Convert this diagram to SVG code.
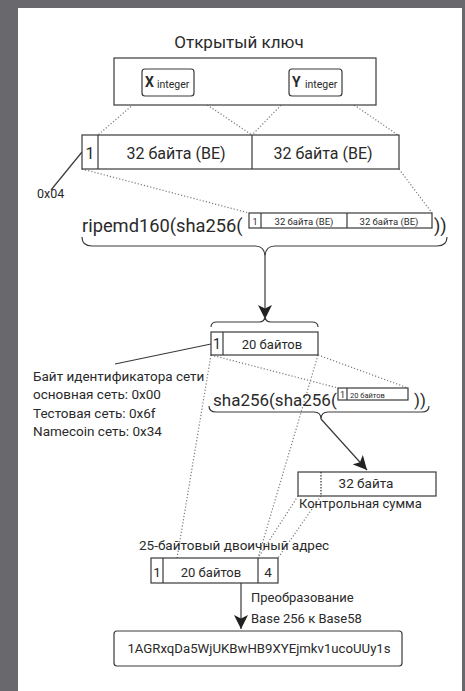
<svg xmlns="http://www.w3.org/2000/svg" width="465" height="691" viewBox="0 0 465 691">
<style>
text{font-family:Roboto,"Liberation Sans","Noto Sans",sans-serif;fill:#2a2a2a}
.box{fill:#fff;stroke:#3a3a3a;stroke-width:1.2}
.ln{fill:none;stroke:#3a3a3a;stroke-width:1.2}
.dot{fill:none;stroke:#7a7a7a;stroke-width:1.2;stroke-dasharray:1.2 2}
.m{text-anchor:middle}
</style>
<defs>
<marker id="ah" viewBox="0 0 10 10" refX="10" refY="5" markerWidth="14" markerHeight="14" markerUnits="userSpaceOnUse" orient="auto">
<path d="M0,0 L10,5 L0,10 L2.5,5 Z" fill="#222"/>
</marker>
</defs>
<rect x="0" y="0" width="465" height="691" fill="#68686d"/>
<rect x="18" y="8" width="444" height="683" fill="#fff"/>

<g id="connectors">
<path class="dot" d="M143,96 L98,135 M194,96 L252,135 M290,96 L252,135 M341,96 L398,135"/>
<path class="dot" d="M82,169 L249,213 M399,169 L432,213"/>
<path class="dot" d="M211,355 L338,388 M318,355 L408,388"/>
<path class="dot" d="M211,355 L177,558 M318,355 L258,558"/>
<path class="dot" d="M298,496 L258,558 M321,496 L278,558"/>
<path class="ln" d="M82,152 L51,190"/>
<path class="ln" d="M211,344 L115,364"/>
<path class="ln" d="M82,237 Q82,246 92,246 L255,246 Q265,246 265,257 Q265,246 275,246 L437,246 Q447,246 447,237"/>
<path class="ln" d="M265,257 L265,319" marker-end="url(#ah)"/>
<path class="ln" d="M211,327 Q211,322 217,322 L259,322 Q265,322 265,316 Q265,322 271,322 L312,322 Q318,322 318,327"/>
<path class="ln" d="M209,406 Q209,412 216,412 L314,412 Q321,412 321,419 Q321,412 328,412 L422,412 Q429,412 429,406"/>
<path class="ln" d="M321,419 L367,470" marker-end="url(#ah)"/>
<path class="ln" d="M241,583 L241,629" marker-end="url(#ah)"/>
</g>

<g id="pubkey">
<text x="239" y="48" class="m" font-size="17">Открытый ключ</text>
<rect class="box" x="114" y="58" width="262" height="47"/>
</g>
<g id="x-int">
<rect class="box" x="142" y="69" width="52" height="27" rx="3"/>
<text x="145" y="87" font-size="14" font-weight="bold">X</text>
<text x="157" y="88" font-size="10.5">integer</text>
</g>
<g id="y-int">
<rect class="box" x="289" y="69" width="53" height="27" rx="3"/>
<text x="292" y="87" font-size="14" font-weight="bold">Y</text>
<text x="305" y="88" font-size="10.5">integer</text>
</g>

<g id="uncompressed">
<rect class="box" x="82" y="135" width="317" height="34"/>
<path class="ln" d="M98,135 V169 M252,135 V169"/>
<text x="90" y="159" class="m" font-size="16">1</text>
<text x="176" y="159" class="m" font-size="16">32 байта (BE)</text>
<text x="323" y="159" class="m" font-size="16">32 байта (BE)</text>
</g>
<g id="prefix-label">
<text x="37" y="198" font-size="12.5">0x04</text>
</g>

<g id="ripemd">
<text x="82" y="232" font-size="18.3">ripemd160(sha256(</text>
<rect class="box" x="249" y="213" width="183" height="15"/>
<path class="ln" d="M261,213 V228 M347,213 V228"/>
<text x="255" y="224.5" class="m" font-size="9">1</text>
<text x="304" y="224.5" class="m" font-size="9.5">32 байта (BE)</text>
<text x="389" y="224.5" class="m" font-size="9.5">32 байта (BE)</text>
<text x="434" y="232" font-size="18.3">))</text>
</g>

<g id="hash160">
<rect class="box" x="211" y="332" width="107" height="23"/>
<path class="ln" d="M223,332 V355"/>
<text x="217" y="349" class="m" font-size="14">1</text>
<text x="272" y="349" class="m" font-size="13">20 байтов</text>
</g>

<g id="netbyte-label">
<text x="33" y="381" font-size="13.5">Байт идентификатора сети</text>
<text x="33" y="399" font-size="13.5">основная сеть: 0x00</text>
<text x="33" y="418" font-size="13.5">Тестовая сеть: 0x6f</text>
<text x="33" y="436" font-size="13.5">Namecoin сеть: 0x34</text>
</g>

<g id="sha256">
<text x="213" y="406" font-size="17">sha256(sha256(</text>
<rect class="box" x="338" y="388" width="70" height="12"/>
<path class="ln" d="M347,388 V400"/>
<text x="342.5" y="398" class="m" font-size="9">1</text>
<text x="350" y="397.5" font-size="7.5">20 байтов</text>
<text x="414" y="406" font-size="17">))</text>
</g>

<g id="checksum">
<rect class="box" x="298" y="472" width="138" height="24"/>
<path class="dot" d="M321,472 V496" style="stroke:#333;stroke-dasharray:1.5 1.5"/>
<text x="366" y="488" class="m" font-size="13.5">32 байта</text>
<text x="299" y="508" font-size="13">Контрольная сумма</text>
</g>

<g id="binary-address">
<text x="139" y="550" font-size="13.5">25-байтовый двоичный адрес</text>
<rect class="box" x="151" y="558" width="127" height="25"/>
<path class="ln" d="M163,558 V583 M258,558 V583"/>
<text x="157" y="577" class="m" font-size="13.5">1</text>
<text x="211" y="577" class="m" font-size="13">20 байтов</text>
<text x="268" y="577" class="m" font-size="13.5">4</text>
</g>

<g id="conversion-label">
<text x="251" y="602" font-size="13">Преобразование</text>
<text x="251" y="623" font-size="13">Base 256 к Base58</text>
</g>

<g id="address">
<rect class="box" x="114" y="631" width="288" height="35" rx="3"/>
<text x="259" y="653" class="m" font-size="13.2">1AGRxqDa5WjUKBwHB9XYEjmkv1ucoUUy1s</text>
</g>
</svg>
